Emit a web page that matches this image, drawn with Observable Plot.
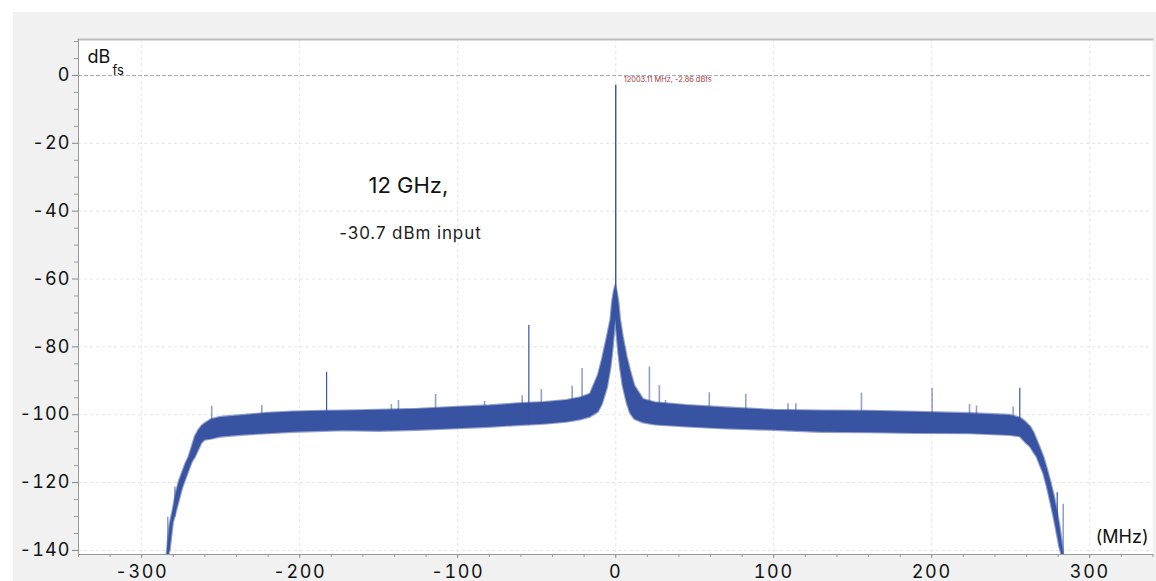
<!DOCTYPE html>
<html><head><meta charset="utf-8">
<script src="https://cdn.jsdelivr.net/npm/d3@7"></script>
<script src="https://cdn.jsdelivr.net/npm/@observablehq/plot@0.6"></script>
<style>
body{margin:0;background:#fff;font-family:Inter,sans-serif;}
#wrap{position:relative;width:1156px;height:581px;overflow:hidden}
#bg{position:absolute;left:13px;top:12px;width:1143px;height:569px;background:#f0f1f0}
#chart{position:absolute;left:0;top:0}
g[aria-label="x-axis tick label"] text {letter-spacing:1.6px}
g[aria-label="y-axis tick label"] text {letter-spacing:1.1px}
</style></head><body>
<div id="wrap"><div id="bg"></div><div id="chart"></div></div>
<script>
// tick labels
const xTicks = [-300, -200, -100, 0, 100, 200, 300];
const yTicks = [0, -20, -40, -60, -80, -100, -120, -140];

// noise floor band (MHz, upper / lower envelope in dBfs)
const bandX = [-284, -283, -282, -280, -278, -276, -274, -272, -270, -268, -266, -264, -262, -260, -256, -250, -235, -220, -204, -185, -172, -150, -125, -100, -80, -62, -45, -31, -22, -16, -11, -8.5, -5.2, -3, -2, -1, 0,
  1, 2, 3, 4.7, 7.2, 9.3, 12, 17.5, 25, 45, 70, 100, 130, 161, 190, 224.5, 249.8, 256, 259, 262.5, 264.5, 266.7, 268.8, 270.9, 273, 275.1, 277.3, 279.4, 281, 282.5, 283.5];
const bandUpper = [-141.5, -137, -132.5, -128, -123, -119.5, -117, -114.5, -112.5, -109.5, -106.5, -104.8, -103.5, -102.7, -101.5, -100.8, -100.2, -99.6, -99.2, -99, -98.9, -98.7, -98.4, -97.8, -97.4, -96.8, -96.4, -95.8, -95, -94, -88.5, -84, -77, -72, -67, -64, -62,
  -64, -67, -72, -77, -83, -87, -91.5, -95.5, -96.5, -97.3, -98, -98.7, -98.9, -99, -99.3, -99.7, -100.2, -101, -102, -103.6, -105.2, -107.6, -110, -112.5, -115.8, -119.4, -123.5, -128.2, -132.5, -137.5, -141.5];
const bandLower = [-141.5, -141.5, -140, -132, -128.5, -125, -121.5, -119, -116.5, -114, -112.5, -110.5, -108.5, -107.5, -107.2, -106.6, -106, -105.6, -105.2, -104.9, -104.7, -104.9, -104.6, -104.1, -103.7, -103.2, -102.8, -102.2, -101.5, -100.7, -99.2, -97, -92, -86, -82, -77, -72,
  -77, -82, -86, -91.5, -96.5, -99.5, -101.3, -102.4, -103, -103.6, -104.2, -104.6, -105.2, -105.3, -105.5, -105.6, -106.1, -106.5, -108, -109.5, -111, -112.5, -115, -117.4, -121, -125.3, -130, -135, -139, -141.5, -141.5];

// carrier
const carrierX = [0];
const carrierPeak = [-2.86];

// spurs (MHz, peak dBfs)
const strongSpurX = [-183, -55, 255.7, 279.4];
const strongSpurY = [-87.5, -73.7, -92.2, -123];
const weakSpurX = [-283.5, -279, -255.7, -224, -142, -137.5, -114, -83, -59.2, -47.1, -27.6, -21.3, 21.3, 27.6, 31.5, 59.2, 82.3, 109, 114, 155.5, 200.2, 223.9, 228.3, 251.5, 283.2];
const weakSpurY = [-130.2, -121.3, -97.5, -97.3, -97, -95.8, -94, -96.1, -94.4, -92.6, -91.6, -86.4, -85.9, -91.4, -95.8, -93.5, -94, -96.8, -96.8, -93.6, -92.3, -97, -97.4, -97.7, -126.4];

const band = bandX.map((x, i) => ({x, upper: bandUpper[i], lower: bandLower[i]}));
const floorAt = d3.scaleLinear().domain(bandX).range(bandLower).clamp(true);
const spurs = (xs, ys) => xs.map((x, i) => ({x, top: ys[i], base: Math.min(floorAt(x), ys[i])}));
const strong = spurs(strongSpurX, strongSpurY);
const weak = spurs(weakSpurX, weakSpurY);
const carrier = carrierX.map((x, i) => ({x, top: carrierPeak[i], base: floorAt(x)}));

const minorX = d3.range(-340, 341, 20).filter(v => v % 100 !== 0);
const minorY = d3.range(-140, 11, 5).filter(v => v % 20 !== 0);
const blue = "#3953a3";

const chart = Plot.plot({
  width: 1156, height: 581,
  marginLeft: 78, marginRight: 4, marginTop: 39, marginBottom: 27,
  style: {background: "transparent", fontFamily: "Inter, sans-serif"},
  x: {domain: [-340, 339.7], axis: null},
  y: {domain: [-141.2, 10.6], axis: null},
  marks: [
    Plot.frame({fill: "white", stroke: null}),
    Plot.gridX(xTicks, {stroke: "#e4e4e4", strokeOpacity: 1, strokeDasharray: "3,3"}),
    Plot.gridY(yTicks.filter(d => d !== 0), {stroke: "#e4e4e4", strokeOpacity: 1, strokeDasharray: "3,3"}),
    Plot.ruleY([0], {stroke: "#a3abb3", strokeDasharray: "4,2"}),
    Plot.ruleX(weak, {x: "x", y1: "base", y2: "top", stroke: blue, strokeOpacity: 0.55, strokeWidth: 1.6, clip: true}),
    Plot.areaY(band, {x: "x", y1: "lower", y2: "upper", fill: blue, stroke: blue, strokeWidth: 2.2, strokeOpacity: 0.55, clip: true}),
    Plot.ruleX(strong, {x: "x", y1: "base", y2: "top", stroke: blue, strokeWidth: 1.2, clip: true}),
    Plot.ruleX(carrier, {x: "x", y1: "base", y2: "top", stroke: blue, strokeWidth: 1.4}),
    Plot.text(carrier, {x: "x", y: 0, text: d => `12003.11 MHz, ${d.top} dBfs`, textAnchor: "start", dx: 8, dy: 4, fontSize: 7.4, fill: "#a33a3a"}),
    Plot.text(["12 GHz,"], {x: -156.5, y: -32.6, textAnchor: "start", lineAnchor: "middle", fontSize: 22, fill: "#111", style: "letter-spacing:1.4px"}),
    Plot.text(["-30.7 dBm input"], {x: -175, y: -46.6, textAnchor: "start", lineAnchor: "middle", fontSize: 17, fill: "#222"}),
    Plot.text(["dB"], {frameAnchor: "top-left", dx: 9, dy: 11, lineAnchor: "top", textAnchor: "start", fontSize: 18, fill: "#111"}),
    Plot.text(["fs"], {frameAnchor: "top-left", dx: 34, dy: 26, lineAnchor: "top", textAnchor: "start", fontSize: 13, fill: "#111"}),
    Plot.text(["(MHz)"], {frameAnchor: "bottom-right", dx: -4, dy: -24, lineAnchor: "top", textAnchor: "end", fontSize: 18, fill: "#111"}),
    Plot.frame({anchor: "top", stroke: "#bbbbbb", strokeWidth: 2}),
    Plot.frame({anchor: "left", stroke: "#999"}),
    Plot.frame({anchor: "bottom", stroke: "#999"}),
    Plot.axisX(xTicks, {label: null, tickSize: 4, tickPadding: 7, fontSize: 18, tickFormat: d => String(d), stroke: "#888", fill: "#111"}),
    Plot.axisX(minorX, {label: null, tickSize: 3, tickFormat: () => "", stroke: "#999"}),
    Plot.axisY(yTicks, {label: null, tickSize: 6, tickPadding: 2, fontSize: 18, tickFormat: d => String(d), stroke: "#888", fill: "#111"}),
    Plot.axisY(minorY, {label: null, tickSize: 4, tickFormat: () => "", stroke: "#999"})
  ]
});
document.getElementById("chart").append(chart);
d3.select(chart).selectAll('g[aria-label="text"] text').filter(function() { return this.textContent === "-30.7 dBm input"; }).style("letter-spacing", "0.9px");
</script>
</body></html>
